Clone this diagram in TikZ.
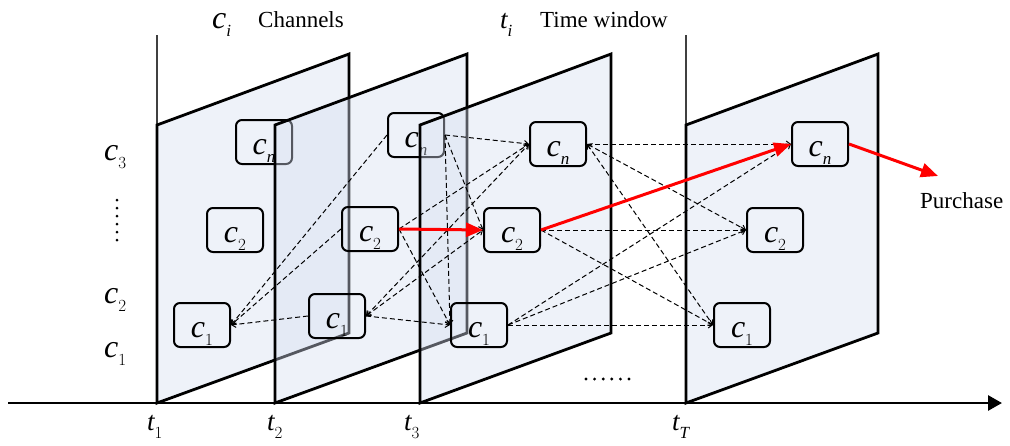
\documentclass[tikz,border=0pt]{standalone}
\usepackage{fontspec}
\newfontfamily\tnr{Liberation Serif}
\usetikzlibrary{arrows.meta}
\definecolor{panelfill}{RGB}{213,222,240}
\newcommand\cv{{\tnr\itshape\fontsize{32}{32}\selectfont c}}
\newcommand\tv{{\tnr\itshape\fontsize{27}{27}\selectfont t}}
\newcommand\sbd[1]{\raisebox{-8pt}{\fontsize{17}{17}\selectfont #1}}
\newcommand\sbi[1]{\raisebox{-8pt}{\tnr\itshape\fontsize{17}{17}\selectfont #1}}
\begin{document}
\begin{tikzpicture}[x=1pt,y=-1pt,
  panel/.style={draw=black, line width=2.8pt, fill=panelfill, fill opacity=0.4, line join=miter},
  guide/.style={draw=black!75, line width=1.3pt},
  cnode/.style={draw, line width=2pt, rounded corners=6pt, minimum width=56pt, minimum height=44pt, inner sep=0pt, text height=24pt, text depth=0pt},
  lab/.style={anchor=base west, inner sep=0pt},
  txt/.style={anchor=base west, inner sep=0pt, font=\tnr\fontsize{23}{23}\selectfont},
  dedge/.style={dash pattern=on 5pt off 3pt, line width=1pt, -{Straight Barb[length=4pt,width=6pt]}},
  dedgeb/.style={dash pattern=on 5pt off 3pt, line width=1pt, {Straight Barb[length=4pt,width=6pt]}-{Straight Barb[length=4pt,width=6pt]}},
  redarr/.style={draw=red, line width=3pt, -{Triangle[length=17pt,width=14pt]}},
  axisarr/.style={line width=2.8pt, -{Triangle[length=14pt,width=15pt]}},
  dotmark/.style={fill=black}]
\useasboundingbox (0,0) rectangle (1010,445);

% guide lines above panels
\draw[guide] (157,35) -- (157,125);
\draw[guide] (686,35) -- (686,125);

% panel 1
\draw[panel] (157,403) -- (157,125) -- (349,54) -- (349,333) -- cycle;
\node[cnode] (an) at (264,142) {\cv\sbi{n}};
\node[cnode] (a2) at (235,230) {\cv\sbd{2}};
\node[cnode] (a1) at (202,325) {\cv\sbd{1}};

% panel 2
\draw[panel] (275,403) -- (275,125) -- (467,54) -- (467,333) -- cycle;
\node[cnode] (bn) at (416,135) {\cv\sbi{n}};
\node[cnode] (b2) at (370,229) {\cv\sbd{2}};
\node[cnode] (b1) at (337,316) {\cv\sbd{1}};

% panel 3
\draw[panel] (420,403) -- (420,125) -- (611,54) -- (611,333) -- cycle;
\node[cnode] (dn) at (558,144) {\cv\sbi{n}};
\node[cnode] (d2) at (512,230) {\cv\sbd{2}};
\node[cnode] (d1) at (479,325) {\cv\sbd{1}};

% panel 4
\draw[panel] (686,403) -- (686,125) -- (878,54) -- (878,333) -- cycle;
\node[cnode] (en) at (820,144) {\cv\sbi{n}};
\node[cnode] (e2) at (775,230) {\cv\sbd{2}};
\node[cnode] (e1) at (742,325) {\cv\sbd{1}};

% time axis
\coordinate (ax0) at (8,403);
\coordinate (ax1) at (1002,403);
\draw[axisarr] (ax0) -- (ax1);

% dashed transitions: panel 2 -> panel 1
\draw[dedge] (b1.west) -- (a1.east);
\draw[dedge] (b2.west) -- (a1.east);
\draw[dedge] (bn.west) -- (a1.east);

% panel 2 -> panel 3
\draw[dedge] (bn.east) -- (dn.west);
\draw[dedge] (bn.east) -- (d2.west);
\draw[dedge] (bn.east) -- (d1.west);
\draw[dedge] (b2.east) -- (dn.west);
\draw[dedge] (b2.east) -- (d1.west);
\draw[dedgeb] (b1.east) -- (dn.west);
\draw[dedgeb] (b1.east) -- (d2.west);
\draw[dedge] (b1.east) -- (d1.west);

% panel 3 -> panel 4
\draw[dedge] (dn.east) -- (en.west);
\draw[dedgeb] (dn.east) -- (e2.west);
\draw[dedgeb] (dn.east) -- (e1.west);
\draw[dedge] (d2.east) -- (e2.west);
\draw[dedge] (d2.east) -- (e1.west);
\draw[dedge] (d1.east) -- (en.west);
\draw[dedge] (d1.east) -- (e2.west);
\draw[dedge] (d1.east) -- (e1.west);

% red path
\coordinate (buy) at (938,176);
\draw[redarr] (b2.east) -- (d2.west);
\draw[redarr] (d2.east) -- (en.west);
\draw[redarr] (en.east) -- (buy);

% labels
\node[lab] (lci) at (212,28) {\cv\sbi{i}};
\node[txt] (lch) at (258,27) {Channels};
\node[lab] (lti) at (500,28) {\tv\sbi{i}};
\node[txt] (ltw) at (540,27) {Time window};
\node[txt] (lbuy) at (920,208) {Purchase};

\node[lab] (lc3) at (104,160) {\cv\sbd{3}};
\node[lab] (lc2) at (104,303) {\cv\sbd{2}};
\node[lab] (lc1) at (104,357) {\cv\sbd{1}};

\node[lab] (lt1) at (147,430) {\tv\sbd{1}};
\node[lab] (lt2) at (267,430) {\tv\sbd{2}};
\node[lab] (lt3) at (404,430) {\tv\sbd{3}};
\node[lab] (ltT) at (672,430) {\tv\sbi{T}};

% dots
\foreach \yy in {200,208,216,224,232,240} \fill[dotmark] (117,\yy) circle (1.5pt);
\foreach \xx in {586,594.6,603.2,611.8,620.4,629} \fill[dotmark] (\xx,379) circle (1.6pt);
\end{tikzpicture}
\end{document}
